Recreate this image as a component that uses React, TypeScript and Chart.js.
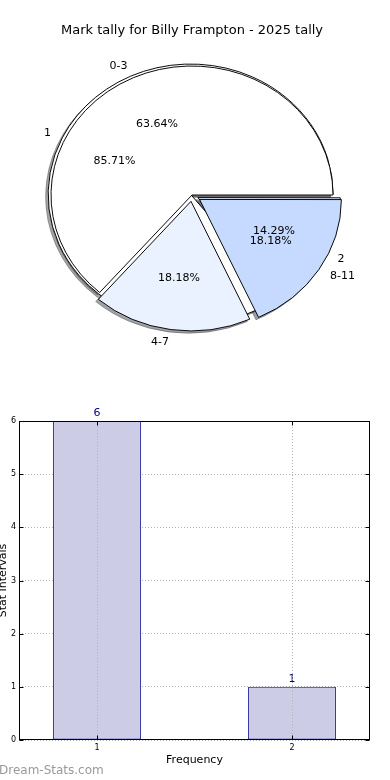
import React, { useEffect, useRef } from 'react';
import { Chart, registerables } from 'chart.js';

Chart.register(...registerables);

const FONT = "'DejaVu Sans', sans-serif";
Chart.defaults.font.family = FONT;
Chart.defaults.color = '#000';

// ---- data ----
const chartTitle = 'Mark tally for Billy Frampton - 2025 tally';
const markIntervals = ['0-3', '4-7', '8-11'];
const markCounts = [7, 2, 2];
const markColors = ['#ffffff', '#eaf1ff', '#c6daff'];
const markExplode = [0, 28, 36];
const freqLabels = ['1', '2'];
const freqCounts = [6, 1];
const freqColors = ['#ffffff', '#eaf1ff'];
const freqExplode = [6, 26];
const barXTitle = 'Frequency';
const barYTitle = 'Stat Intervals';
const yTickValues = [0, 1, 2, 3, 4, 5, 6];
const watermark = 'Dream-Stats.com';

// ---- pie geometry ----
const PIE_R = 141;
const SY = 129 / 141;
const SHADOW = 2.5;

// matplotlib draws counter-clockwise from 3 o'clock; Chart.js goes clockwise,
// so the slice order is reversed and the start rotated to 3 o'clock.
const rev = <T,>(a: T[]) => a.slice().reverse();
const pieNames = [rev(markIntervals), rev(freqLabels)];

function shade(hex: string) {
  const n = parseInt(hex.slice(1), 16);
  const r = Math.round(((n >> 16) & 255) * 0.3);
  const g = Math.round(((n >> 8) & 255) * 0.3);
  const b = Math.round((n & 255) * 0.3);
  return `rgba(${r},${g},${b},0.5)`;
}

const pieFx = {
  id: 'pieFx',
  beforeDatasetsDraw(chart: any) {
    const ctx = chart.ctx;
    const metas = chart.getSortedVisibleDatasetMetas();
    let cx = 0;
    let cy = 0;
    metas.forEach((m: any) =>
      m.data.forEach((a: any) => {
        a.innerRadius = 0;
        a.outerRadius = PIE_R;
        cx = a.x;
        cy = a.y;
      })
    );
    ctx.save();
    ctx.translate(cx, cy);
    ctx.scale(1, SY);
    ctx.translate(-cx, -cy);
    for (let i = metas.length - 1; i >= 0; i--) {
      metas[i].data.forEach((a: any) => {
        const o = a.options;
        const off = (o.offset || 0) / 4;
        const h = (a.startAngle + a.endAngle) / 2;
        const circ = a.endAngle - a.startAngle;
        const r = a.outerRadius + off * (1 - Math.sin(Math.min(Math.PI, circ)));
        const x = a.x + Math.cos(h) * off - SHADOW;
        const y = a.y + Math.sin(h) * off + SHADOW;
        ctx.beginPath();
        ctx.moveTo(x, y);
        ctx.arc(x, y, r, a.startAngle, a.endAngle);
        ctx.closePath();
        const c = shade(o.backgroundColor);
        ctx.fillStyle = c;
        ctx.strokeStyle = c;
        ctx.lineWidth = 1;
        ctx.fill();
        ctx.stroke();
      });
    }
  },
  afterDatasetsDraw(chart: any) {
    const ctx = chart.ctx;
    ctx.restore();
    const metas = chart.getSortedVisibleDatasetMetas();
    ctx.save();
    ctx.font = `11px ${FONT}`;
    ctx.fillStyle = '#000';
    ctx.textBaseline = 'middle';
    metas
      .slice()
      .sort((p: any, q: any) => p.index - q.index)
      .forEach((m: any) => {
        const ds = chart.data.datasets[m.index];
        const names = pieNames[m.index];
        const total = ds.data.reduce((s: number, v: number) => s + v, 0);
        m.data.forEach((a: any, j: number) => {
          const off = (a.options.offset || 0) / 4;
          const h = (a.startAngle + a.endAngle) / 2;
          const c = Math.cos(h);
          const s = Math.sin(h);
          const lr = off + 1.1 * PIE_R;
          ctx.textAlign = c > 0 ? 'left' : 'right';
          ctx.fillText(names[j], a.x + c * lr, a.y + s * lr * SY);
          const pr = off + 0.6 * PIE_R;
          ctx.textAlign = 'center';
          ctx.fillText(((ds.data[j] / total) * 100).toFixed(2) + '%', a.x + c * pr, a.y + s * pr * SY);
        });
      });
    ctx.restore();
  },
};

const barFx = {
  id: 'barFx',
  afterDatasetsDraw(chart: any) {
    const ctx = chart.ctx;
    const meta = chart.getDatasetMeta(0);
    ctx.save();
    ctx.font = `11px ${FONT}`;
    ctx.fillStyle = '#00008b';
    ctx.textAlign = 'center';
    ctx.textBaseline = 'bottom';
    meta.data.forEach((b: any, i: number) => {
      ctx.fillText(String(freqCounts[i]), b.x, b.y - 2);
    });
    ctx.restore();
  },
  afterDraw(chart: any) {
    const ctx = chart.ctx;
    const { left, right, top, bottom } = chart.chartArea;
    const L = Math.round(left) + 0.5;
    const R = Math.round(right) - 0.5;
    const T = Math.round(top) + 0.5;
    const B = Math.round(bottom) - 0.5;
    ctx.save();
    ctx.strokeStyle = '#000';
    ctx.lineWidth = 1;
    ctx.strokeRect(L, T, R - L, B - T);
    ctx.beginPath();
    const ys = chart.scales.y;
    ys.ticks.forEach((t: any) => {
      const p = Math.round(ys.getPixelForValue(t.value)) + 0.5;
      ctx.moveTo(L, p);
      ctx.lineTo(L + 4, p);
      ctx.moveTo(R, p);
      ctx.lineTo(R - 4, p);
    });
    const xs = chart.scales.x;
    xs.ticks.forEach((t: any) => {
      const p = Math.round(xs.getPixelForValue(t.value)) + 0.5;
      ctx.moveTo(p, B);
      ctx.lineTo(p, B - 4);
      ctx.moveTo(p, T);
      ctx.lineTo(p, T + 4);
    });
    ctx.stroke();
    ctx.restore();
  },
};

function PieChart() {
  const ref = useRef<HTMLCanvasElement>(null);
  useEffect(() => {
    const chart = new Chart(ref.current as HTMLCanvasElement, {
      type: 'pie',
      data: {
        labels: pieNames[0],
        datasets: [
          {
            data: rev(markCounts),
            backgroundColor: rev(markColors),
            offset: rev(markExplode),
            borderColor: '#000',
            borderWidth: 1,
            borderJoinStyle: 'miter',
            hoverOffset: 0,
            clip: false,
          } as any,
          {
            data: rev(freqCounts),
            backgroundColor: rev(freqColors),
            offset: rev(freqExplode),
            borderColor: '#000',
            borderWidth: 1,
            borderJoinStyle: 'miter',
            hoverOffset: 0,
            clip: false,
          } as any,
        ],
      },
      options: {
        animation: false,
        responsive: false,
        maintainAspectRatio: false,
        rotation: 90,
        radius: PIE_R,
        layout: { padding: { left: 1, right: 7, top: 0, bottom: 38.6 } },
        events: [],
        plugins: {
          legend: { display: false },
          tooltip: { enabled: false },
          title: {
            display: true,
            text: chartTitle,
            color: '#000',
            font: { size: 13, weight: 'normal', family: FONT },
            padding: { top: 23, bottom: 0 },
          },
        },
      } as any,
      plugins: [pieFx],
    });
    return () => chart.destroy();
  }, []);
  return <canvas ref={ref} width={390} height={390} style={{ position: 'absolute', left: 0, top: 0 }} />;
}

function BarChart() {
  const ref = useRef<HTMLCanvasElement>(null);
  useEffect(() => {
    const chart = new Chart(ref.current as HTMLCanvasElement, {
      type: 'bar',
      data: {
        datasets: [
          {
            data: freqLabels.map((l, i) => ({ x: Number(l), y: freqCounts[i] })),
            backgroundColor: '#ccccE6',
            borderColor: '#00008b',
            borderWidth: 1,
            borderSkipped: false,
            barPercentage: 0.45,
            categoryPercentage: 1,
          } as any,
        ],
      },
      options: {
        animation: false,
        responsive: false,
        maintainAspectRatio: false,
        events: [],
        layout: { padding: { left: -3, right: 20, top: 31, bottom: 0 } },
        plugins: { legend: { display: false }, tooltip: { enabled: false } },
        scales: {
          x: {
            type: 'linear',
            min: 0.6,
            max: 2.4,
            offset: false,
            afterBuildTicks: (s: any) => {
              s.ticks = freqLabels.map((l) => ({ value: Number(l) }));
            },
            afterFit: (s: any) => {
              s.height = 40;
            },
            ticks: { font: { size: 8 }, color: '#000', padding: 3, callback: (v: any) => String(v) },
            grid: { color: '#b4b4b4', lineWidth: 1, drawTicks: false, offset: false, z: 1 },
            border: { display: false, dash: [1, 2] },
            title: {
              display: true,
              text: barXTitle,
              color: '#000',
              font: { size: 11 },
              padding: { top: 0, bottom: 13 },
            },
          },
          y: {
            type: 'linear',
            min: 0,
            max: 6,
            afterBuildTicks: (s: any) => {
              s.ticks = yTickValues.map((v) => ({ value: v }));
            },
            afterFit: (s: any) => {
              s.width = 22;
            },
            ticks: { font: { size: 8 }, color: '#000', padding: 3 },
            grid: { color: '#b4b4b4', lineWidth: 1, drawTicks: false },
            border: { display: false, dash: [1, 2] },
            title: {
              display: true,
              text: barYTitle,
              color: '#000',
              font: { size: 11 },
              padding: 0,
            },
          },
        },
      } as any,
      plugins: [barFx],
    });
    return () => chart.destroy();
  }, []);
  return <canvas ref={ref} width={390} height={390} style={{ position: 'absolute', left: 0, top: 390 }} />;
}

export default function App() {
  return (
    <div
      style={{
        position: 'fixed',
        left: 0,
        top: 0,
        width: 390,
        height: 780,
        background: '#fff',
        overflow: 'hidden',
      }}
    >
      <PieChart />
      <BarChart />
      <div
        style={{
          position: 'absolute',
          left: -1,
          top: 762,
          fontFamily: FONT,
          fontSize: 12,
          color: '#9a9a9a',
          lineHeight: '16px',
          whiteSpace: 'nowrap',
        }}
      >
        {watermark}
      </div>
    </div>
  );
}
